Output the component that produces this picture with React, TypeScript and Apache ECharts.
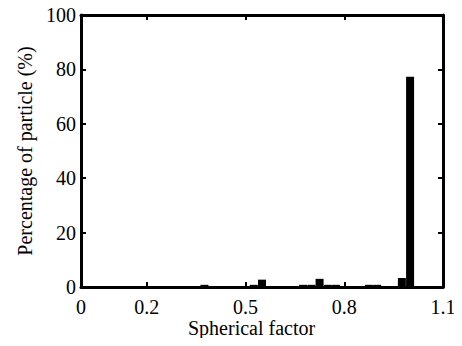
import React, { useEffect, useRef } from "react";
import * as echarts from "echarts";

const binCenters = [0.2, 0.225, 0.25, 0.275, 0.3, 0.325, 0.35, 0.375, 0.4, 0.425, 0.45, 0.475, 0.5, 0.525, 0.55, 0.575, 0.6, 0.625, 0.65, 0.675, 0.7, 0.725, 0.75, 0.775, 0.8, 0.825, 0.85, 0.875, 0.9, 0.925, 0.95, 0.975, 1.0];
const percentages = [0.2, 0.2, 0.3, 0.3, 0.3, 0.3, 0.3, 0.8, 0.3, 0.3, 0.3, 0.3, 0.3, 0.8, 2.7, 0.3, 0.3, 0.3, 0.3, 0.8, 0.8, 3.0, 0.8, 0.8, 0.3, 0.3, 0.3, 0.8, 0.8, 0.3, 0.3, 3.3, 77.3];
const xTickLabels = [0, 0.2, 0.5, 0.8, 1.1];
const yTickValues = [0, 20, 40, 60, 80, 100];

const FONT = "'Liberation Serif', 'Times New Roman', serif";

export default function App() {
  const ref = useRef<HTMLDivElement>(null);
  useEffect(() => {
    if (!ref.current) return;
    const chart = echarts.init(ref.current, null, { renderer: "svg" });
    const lineStyle = { color: "#000", width: 3 };
    const tickStyle = { color: "#000", width: 2 };
    chart.setOption({
      animation: false,
      backgroundColor: "#fff",
      grid: { left: 81, right: 19, top: 15, bottom: 59, containLabel: false },
      xAxis: [
        {
          type: "value",
          min: 0,
          max: 1.1,
          axisLine: { show: true, onZero: false, lineStyle },
          axisTick: { show: true, inside: true, length: 5, lineStyle: tickStyle, customValues: [0.2, 0.5, 0.8] },
          axisLabel: {
            show: true,
            customValues: xTickLabels,
            fontFamily: FONT,
            fontSize: 20,
            color: "#000",
            margin: 10,
            formatter: (v: number) => String(v),
          },
          splitLine: { show: false },
        },
        {
          type: "value",
          position: "top",
          min: 0,
          max: 1.1,
          axisLine: { show: true, onZero: false, lineStyle },
          axisTick: { show: true, inside: true, length: 5, lineStyle: tickStyle, customValues: [0.2, 0.5, 0.8] },
          axisLabel: { show: false },
          splitLine: { show: false },
        },
      ],
      yAxis: [
        {
          type: "value",
          min: 0,
          max: 100,
          interval: 20,
          name: "Percentage of particle (%)",
          nameLocation: "middle",
          nameGap: 44,
          nameTextStyle: { fontFamily: FONT, fontSize: 20, color: "#000" },
          axisLine: { show: true, onZero: false, lineStyle },
          axisTick: { show: true, inside: true, length: 5, lineStyle: tickStyle },
          axisLabel: {
            fontFamily: FONT,
            fontSize: 20,
            color: "#000",
            margin: 5,
            customValues: yTickValues,
          },
          splitLine: { show: false },
        },
        {
          type: "value",
          position: "right",
          min: 0,
          max: 100,
          interval: 20,
          axisLine: { show: true, onZero: false, lineStyle },
          axisTick: { show: true, inside: true, length: 5, lineStyle: tickStyle },
          axisLabel: { show: false },
          splitLine: { show: false },
        },
      ],
      graphic: [
        {
          type: "text",
          left: 188,
          top: 318,
          style: { text: "Spherical factor", font: `20px ${FONT}`, fill: "#000" },
        },
      ],
      series: [
        {
          type: "bar",
          xAxisIndex: 0,
          yAxisIndex: 0,
          barWidth: 8,
          itemStyle: { color: "#000" },
          data: binCenters.map((c, i) => [c, percentages[i]]),
        },
      ],
    });
    return () => chart.dispose();
  }, []);
  return <div ref={ref} style={{ width: 462, height: 346, margin: -8 }} />;
}
